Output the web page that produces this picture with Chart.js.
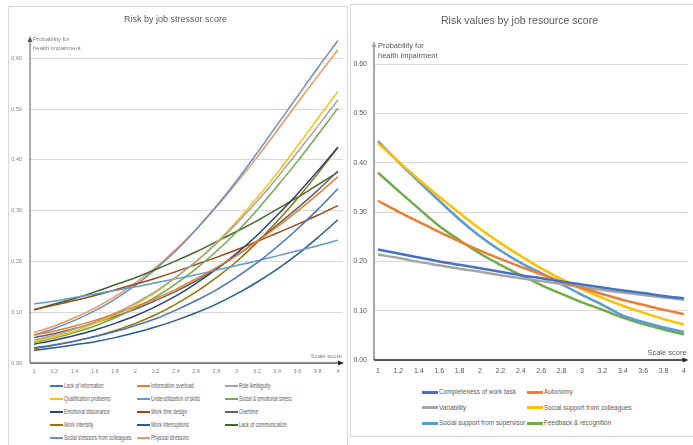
<!DOCTYPE html>
<html>
<head>
<meta charset="utf-8">
<script src="https://cdn.jsdelivr.net/npm/chart.js@4.4.1/dist/chart.umd.min.js"></script>
<style>
  body { margin: 0; background: #fff; width: 693px; height: 445px; overflow: hidden; position: relative;
         font-family: "Liberation Sans", Arial, sans-serif; }
  .panel { position: absolute; border: 1px solid #d9d9d9; box-sizing: border-box; background: #fff; }
  canvas { position: absolute; }
  .leg { position: absolute; white-space: nowrap; color: #595959; line-height: 1; }
  .leg i { display: inline-block; vertical-align: middle; margin-right: 1px; }
  .leg span { display: inline-block; vertical-align: middle; transform-origin: 0 50%; }
</style>
</head>
<body>
<div class="panel" style="left:8px;top:6px;width:340px;height:450px"></div>
<div class="panel" style="left:350px;top:4px;width:350px;height:433px"></div>
<canvas id="chart_stressor" width="339" height="372" style="left:8px;top:5px"></canvas>
<canvas id="chart_resource" width="343" height="378" style="left:350px;top:4px"></canvas>
<div id="legend_stressor"></div>
<div id="legend_resource"></div>
<script>
// scale score categories
var xLabels = ['1', '1.2', '1.4', '1.6', '1.8', '2', '2.2', '2.4', '2.6', '2.8', '3', '3.2', '3.4', '3.6', '3.8', '4'];
var xValues = [1, 1.2, 1.4, 1.6, 1.8, 2, 2.2, 2.4, 2.6, 2.8, 3, 3.2, 3.4, 3.6, 3.8, 4];
var yTicks = [0, 0.1, 0.2, 0.3, 0.4, 0.5, 0.6];

// job stressors
var lackOfInformation    = [0.030, 0.036, 0.043, 0.052, 0.062, 0.074, 0.087, 0.104, 0.123, 0.144, 0.169, 0.197, 0.229, 0.264, 0.302, 0.343];
var informationOverload  = [0.055, 0.063, 0.073, 0.084, 0.097, 0.111, 0.127, 0.145, 0.166, 0.188, 0.212, 0.239, 0.268, 0.299, 0.332, 0.367];
var roleAmbiguity        = [0.045, 0.055, 0.067, 0.081, 0.098, 0.118, 0.141, 0.169, 0.200, 0.235, 0.275, 0.318, 0.365, 0.415, 0.466, 0.518];
var qualificationProbs   = [0.042, 0.052, 0.063, 0.078, 0.095, 0.115, 0.139, 0.168, 0.200, 0.237, 0.279, 0.325, 0.374, 0.427, 0.481, 0.535];
var underutilization     = [0.116, 0.122, 0.129, 0.136, 0.143, 0.150, 0.158, 0.166, 0.174, 0.183, 0.192, 0.201, 0.211, 0.221, 0.231, 0.242];
var socialEmotional      = [0.040, 0.049, 0.060, 0.073, 0.089, 0.108, 0.130, 0.156, 0.186, 0.220, 0.258, 0.301, 0.348, 0.397, 0.449, 0.502];
var emotionalDissonance  = [0.037, 0.045, 0.054, 0.065, 0.078, 0.093, 0.111, 0.132, 0.157, 0.185, 0.216, 0.251, 0.291, 0.333, 0.378, 0.425];
var workTimeDesign       = [0.105, 0.114, 0.123, 0.133, 0.144, 0.155, 0.167, 0.180, 0.194, 0.208, 0.223, 0.239, 0.256, 0.273, 0.291, 0.310];
var overtime             = [0.050, 0.058, 0.068, 0.079, 0.092, 0.106, 0.123, 0.141, 0.162, 0.186, 0.212, 0.240, 0.272, 0.305, 0.340, 0.378];
var workIntensity        = [0.028, 0.035, 0.043, 0.052, 0.064, 0.078, 0.095, 0.116, 0.140, 0.168, 0.200, 0.237, 0.279, 0.324, 0.373, 0.425];
var workInterruptions    = [0.025, 0.030, 0.036, 0.042, 0.050, 0.060, 0.071, 0.084, 0.099, 0.116, 0.136, 0.159, 0.185, 0.214, 0.247, 0.282];
var lackOfCommunication  = [0.105, 0.116, 0.127, 0.140, 0.154, 0.168, 0.184, 0.201, 0.219, 0.239, 0.259, 0.280, 0.303, 0.326, 0.351, 0.376];
var socialStressors      = [0.055, 0.068, 0.084, 0.103, 0.126, 0.153, 0.185, 0.221, 0.263, 0.309, 0.359, 0.413, 0.469, 0.525, 0.581, 0.635];
var physicalStressors    = [0.060, 0.073, 0.089, 0.108, 0.131, 0.158, 0.188, 0.224, 0.263, 0.307, 0.355, 0.405, 0.458, 0.512, 0.565, 0.617];

var stressorNames = ['Lack of information', 'Information overload', 'Role Ambiguity', 'Qualification problems',
  'Underutilization of skills', 'Social & emotional stress', 'Emotional dissonance', 'Work time design', 'Overtime',
  'Work intensity', 'Work interruptions', 'Lack of communication', 'Social stressors from colleagues', 'Physical stressors'];
var stressorSeries = [lackOfInformation, informationOverload, roleAmbiguity, qualificationProbs, underutilization,
  socialEmotional, emotionalDissonance, workTimeDesign, overtime, workIntensity, workInterruptions,
  lackOfCommunication, socialStressors, physicalStressors];
var stressorColors = ['#4472C4', '#ED7D31', '#A5A5A5', '#FFC000', '#5B9BD5', '#70AD47', '#264478', '#9E480E',
  '#636363', '#997300', '#255E91', '#43682B', '#698ED0', '#F1975A'];

// job resources
var completeness = [0.224, 0.216, 0.208, 0.200, 0.193, 0.186, 0.179, 0.172, 0.166, 0.159, 0.153, 0.147, 0.141, 0.136, 0.130, 0.125];
var autonomy     = [0.323, 0.301, 0.280, 0.260, 0.240, 0.222, 0.205, 0.189, 0.174, 0.159, 0.146, 0.134, 0.122, 0.112, 0.102, 0.093];
var variability  = [0.214, 0.207, 0.199, 0.192, 0.185, 0.179, 0.172, 0.166, 0.160, 0.154, 0.148, 0.142, 0.137, 0.132, 0.127, 0.122];
var colleagues   = [0.440, 0.403, 0.366, 0.331, 0.298, 0.266, 0.237, 0.211, 0.186, 0.164, 0.144, 0.126, 0.110, 0.096, 0.083, 0.072];
var supervisor   = [0.444, 0.402, 0.362, 0.323, 0.285, 0.251, 0.222, 0.197, 0.176, 0.154, 0.132, 0.112, 0.090, 0.077, 0.066, 0.057];
var feedback     = [0.380, 0.343, 0.307, 0.272, 0.243, 0.216, 0.193, 0.172, 0.152, 0.134, 0.117, 0.102, 0.086, 0.073, 0.062, 0.052];

var resourceNames = ['Completeness of work task', 'Autonomy', 'Variability', 'Social support from colleagues',
  'Social support from supervisor', 'Feedback & recognition'];
var resourceSeries = [completeness, autonomy, variability, colleagues, supervisor, feedback];
var resourceColors = ['#4472C4', '#ED7D31', '#A5A5A5', '#FFC000', '#5B9BD5', '#70AD47'];

var FONT = '"Liberation Sans", Arial, sans-serif';

// axis lines with arrows + the small axis captions
var axisDeco = {
  id: 'axisDeco',
  afterDraw: function (chart, args, o) {
    var ctx = chart.ctx, a = chart.chartArea;
    ctx.save();
    // y axis
    ctx.strokeStyle = o.yColor; ctx.fillStyle = o.yColor; ctx.lineWidth = o.yWidth;
    ctx.beginPath(); ctx.moveTo(a.left, a.bottom); ctx.lineTo(a.left, a.top + 3); ctx.stroke();
    ctx.beginPath(); ctx.moveTo(a.left, a.top - 1); ctx.lineTo(a.left - 2.5, a.top + 5); ctx.lineTo(a.left + 2.5, a.top + 5); ctx.closePath(); ctx.fill();
    // x axis
    ctx.strokeStyle = o.xColor; ctx.fillStyle = o.xColor; ctx.lineWidth = o.xWidth;
    ctx.beginPath(); ctx.moveTo(a.left, a.bottom); ctx.lineTo(a.right - 3, a.bottom); ctx.stroke();
    ctx.beginPath(); ctx.moveTo(a.right + 1, a.bottom); ctx.lineTo(a.right - 5, a.bottom - 2.5); ctx.lineTo(a.right - 5, a.bottom + 2.5); ctx.closePath(); ctx.fill();
    // captions
    ctx.fillStyle = o.textColor;
    ctx.font = o.fontSize + 'px ' + FONT;
    ctx.textBaseline = 'middle';
    ctx.textAlign = 'left';
    o.yTitle.forEach(function (t, i) { ctx.fillText(t, a.left + o.yTitleDx, a.top + o.yTitleDy + i * o.lineGap); });
    ctx.textAlign = 'right';
    ctx.fillText(o.xTitle, a.right - 1, a.bottom - o.xTitleDy);
    ctx.restore();
  }
};

function makeChart(id, names, series, colors, cfg) {
  return new Chart(document.getElementById(id), {
    type: 'line',
    data: {
      datasets: names.map(function (n, i) {
        return {
          label: n,
          data: xValues.map(function (x, j) { return { x: x, y: series[i][j] }; }),
          borderColor: colors[i],
          backgroundColor: colors[i],
          borderWidth: cfg.lineWidth,
          pointRadius: 0,
          cubicInterpolationMode: 'monotone',
          fill: false
        };
      })
    },
    options: {
      animation: false,
      responsive: false,
      events: [],
      layout: { padding: { left: 0, right: cfg.padRight, top: 0, bottom: 0 } },
      plugins: {
        legend: { display: false },
        tooltip: { enabled: false },
        title: {
          display: true,
          text: cfg.title,
          color: '#595959',
          font: { family: FONT, size: cfg.titleSize, weight: 'normal', lineHeight: 1.2 },
          padding: cfg.titlePad
        },
        axisDeco: cfg.deco
      },
      scales: {
        x: {
          type: 'linear',
          min: cfg.xMin,
          max: cfg.xMax,
          afterBuildTicks: function (s) { s.ticks = xValues.map(function (v) { return { value: v }; }); },
          afterFit: function (s) { s.height = cfg.xAxisH; },
          ticks: {
            autoSkip: false, maxRotation: 0,
            color: cfg.tickColor,
            font: { family: FONT, size: cfg.tickSize },
            padding: cfg.xTickPad,
            callback: function (v, i) { return xLabels[i]; }
          },
          grid: { display: false, drawTicks: false },
          border: { display: false }
        },
        y: {
          min: 0,
          max: cfg.yMax,
          afterBuildTicks: function (s) { s.ticks = yTicks.map(function (v) { return { value: v }; }); },
          afterFit: function (s) { s.width = cfg.yAxisW; },
          ticks: {
            color: cfg.tickColor,
            font: { family: FONT, size: cfg.tickSize },
            padding: cfg.yTickPad,
            callback: function (v) { return v.toFixed(2); }
          },
          grid: { color: '#d9d9d9', lineWidth: 1, drawTicks: false },
          border: { display: false }
        }
      }
    },
    plugins: [axisDeco]
  });
}

makeChart('chart_stressor', stressorNames, stressorSeries, stressorColors, {
  title: 'Risk by job stressor score', titleSize: 9, titlePad: { top: 9.5, bottom: 11.7 },
  lineWidth: 1.5, padRight: 4, xMin: 0.96, xMax: 4.05, yMax: 0.642,
  xAxisH: 14, yAxisW: 22, tickSize: 5.5, tickColor: '#7f7f7f', xTickPad: 5, yTickPad: 8,
  deco: { yColor: '#595959', yWidth: 1, xColor: '#262626', xWidth: 1.2, textColor: '#7f7f7f', fontSize: 6,
          yTitle: ['Probability for', 'health impairment'], yTitleDx: 3, yTitleDy: 2, lineGap: 9,
          xTitle: 'Scale score', xTitleDy: 7 }
});

makeChart('chart_resource', resourceNames, resourceSeries, resourceColors, {
  title: 'Risk values by job resource score', titleSize: 10.5, titlePad: { top: 11, bottom: 14.4 },
  lineWidth: 2.5, padRight: 4, xMin: 0.961, xMax: 4.035, yMax: 0.645,
  xAxisH: 22, yAxisW: 24, tickSize: 7, tickColor: '#595959', xTickPad: 7, yTickPad: 7,
  deco: { yColor: '#a6a6a6', yWidth: 2, xColor: '#262626', xWidth: 1.5, textColor: '#595959', fontSize: 7.5,
          yTitle: ['Probability for', 'health impairment'], yTitleDx: 4, yTitleDy: 4, lineGap: 10,
          xTitle: 'Scale score', xTitleDy: 7 }
});

// legends laid out in fixed columns, like the source
function buildLegend(id, names, colors, g) {
  var box = document.getElementById(id);
  names.forEach(function (n, i) {
    var col = i % g.cols, row = Math.floor(i / g.cols);
    var d = document.createElement('div');
    d.className = 'leg';
    d.style.left = g.colX[col] + 'px';
    d.style.top = (g.rowY[0] + row * g.rowGap - g.size / 2) + 'px';
    d.style.fontSize = g.size + 'px';
    d.innerHTML = '<i style="width:' + g.sw + 'px;height:' + g.sh + 'px;background:' + colors[i] + '"></i><span></span>';
    var s = d.querySelector('span');
    s.textContent = n;
    s.style.transform = 'scaleX(' + g.squeeze + ')';
    box.appendChild(d);
  });
}
buildLegend('legend_stressor', stressorNames, stressorColors,
  { cols: 3, colX: [50, 137, 225], rowY: [386], rowGap: 13, size: 6.5, sw: 13, sh: 2, squeeze: 0.72 });
buildLegend('legend_resource', resourceNames, resourceColors,
  { cols: 2, colX: [422, 527], rowY: [392], rowGap: 15.5, size: 8, sw: 16, sh: 3, squeeze: 0.8 });
</script>
</body>
</html>
